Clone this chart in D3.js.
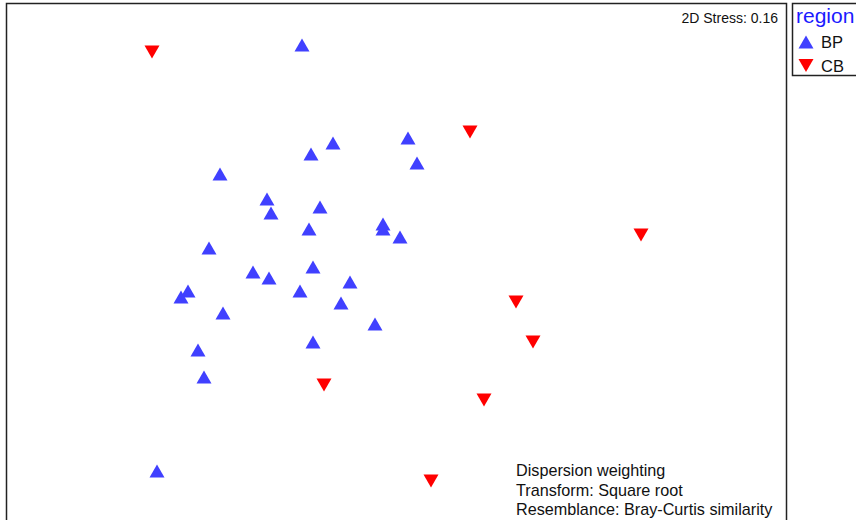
<!DOCTYPE html>
<html>
<head>
<meta charset="utf-8">
<script src="https://cdn.jsdelivr.net/npm/d3@7"></script>
<style>
  html, body { margin: 0; padding: 0; background: #fff; overflow: hidden; }
  svg { display: block; font-family: "Liberation Sans", Arial, sans-serif; }
</style>
</head>
<body>
<svg id="chart" width="856" height="520"></svg>
<script>
// nMDS ordination scores (MDS1, MDS2) by region
const bpMDS1 = [-0.392, 0.032, -0.268, -0.356, 0.068, -0.720, -0.532, -0.516, -0.320, -0.364,
                -0.068, -0.068, 0.000, -0.764, -0.348, -0.588, -0.524, -0.200, -0.400, -0.848,
                -0.876, -0.236, -0.708, -0.100, -0.348, -0.808, -0.784, -0.972];
const bpMDS2 = [0.860, 0.488, 0.468, 0.424, 0.388, 0.344, 0.244, 0.188, 0.212, 0.124,
                0.144, 0.124, 0.092, 0.048, -0.028, -0.048, -0.072, -0.088, -0.124, -0.124,
                -0.148, -0.172, -0.212, -0.256, -0.328, -0.360, -0.468, -0.844];
const cbMDS1 = [-0.992, 0.280, 0.964, 0.464, 0.532, -0.304, 0.336, 0.124];
const cbMDS2 = [0.832, 0.512, 0.100, -0.168, -0.328, -0.500, -0.560, -0.884];

const regions = ["BP", "CB"];
const regionColors = ["#4040ff", "#ff0000"];
const stressLabel = "2D Stress: 0.16";
const notes = ["Dispersion weighting", "Transform: Square root", "Resemblance: Bray-Curtis similarity"];

const svg = d3.select("#chart");

const x = d3.scaleLinear().domain([-1.6, 1.6]).range([0, 800]);
const y = d3.scaleLinear().domain([-1.04, 1.04]).range([520, 0]);

// plot frame
svg.append("rect")
  .attr("x", 6.5).attr("y", 3.5)
  .attr("width", 780).attr("height", 530)
  .attr("fill", "none").attr("stroke", "#222").attr("stroke-width", 1.5);

const upTri = "M0,-6.5L7.5,6.5L-7.5,6.5Z";
const downTri = "M-7.5,-6.5L7.5,-6.5L0,6.5Z";

const bp = bpMDS1.map((v, i) => ({ x: v, y: bpMDS2[i] }));
const cb = cbMDS1.map((v, i) => ({ x: v, y: cbMDS2[i] }));

svg.append("g").selectAll("path").data(bp).join("path")
  .attr("d", upTri)
  .attr("transform", d => `translate(${x(d.x)},${y(d.y)})`)
  .attr("fill", regionColors[0]);

svg.append("g").selectAll("path").data(cb).join("path")
  .attr("d", downTri)
  .attr("transform", d => `translate(${x(d.x)},${y(d.y)})`)
  .attr("fill", regionColors[1]);

// stress
svg.append("text")
  .attr("x", 778).attr("y", 23)
  .attr("text-anchor", "end")
  .attr("font-size", 14)
  .attr("fill", "#111")
  .text(stressLabel);

// notes
svg.append("g").selectAll("text").data(notes).join("text")
  .attr("x", 516)
  .attr("y", (d, i) => 476 + i * 19.5)
  .attr("font-size", 16.2)
  .attr("fill", "#111")
  .text(d => d);

// legend
const lg = svg.append("g");
lg.append("rect")
  .attr("x", 792.5).attr("y", 3.5)
  .attr("width", 80).attr("height", 72)
  .attr("fill", "none").attr("stroke", "#222").attr("stroke-width", 1.5);
lg.append("text")
  .attr("x", 796).attr("y", 23)
  .attr("font-size", 21)
  .attr("fill", "#1a1aff")
  .text("region");
const shapes = [upTri, downTri];
regions.forEach((r, i) => {
  const cy = 42 + i * 23.5;
  lg.append("path").attr("d", shapes[i])
    .attr("transform", `translate(806,${cy})`)
    .attr("fill", regionColors[i]);
  lg.append("text")
    .attr("x", 821).attr("y", cy + 6)
    .attr("font-size", 16.5)
    .attr("fill", "#111")
    .text(r);
});
</script>
</body>
</html>
